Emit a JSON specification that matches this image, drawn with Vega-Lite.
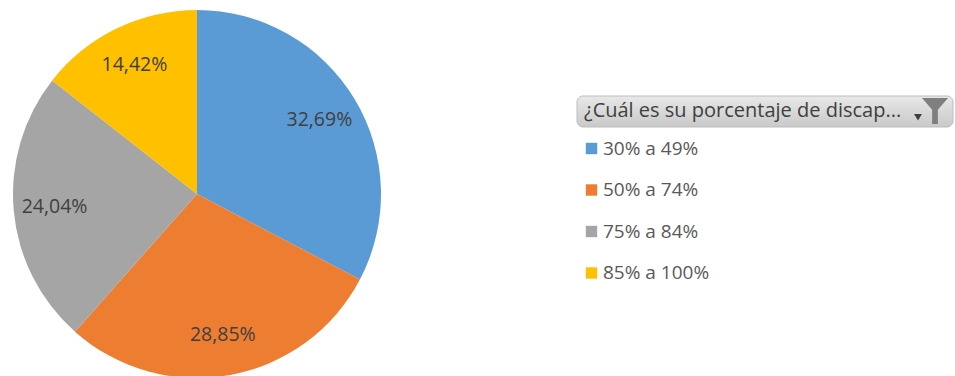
{"$schema":"https://vega.github.io/schema/vega-lite/v6.json","background":"white","padding":0,"spacing":183,"bounds":"flush","resolve":{"scale":{"color":"independent"}},"config":{"view":{"stroke":null},"font":"Open Sans"},"hconcat":[{"width":394,"height":388,"data":{"values":[{"rango":"30% a 49%","porcentaje":32.69,"etiqueta":"32,69%"},{"rango":"50% a 74%","porcentaje":28.85,"etiqueta":"28,85%"},{"rango":"75% a 84%","porcentaje":24.04,"etiqueta":"24,04%"},{"rango":"85% a 100%","porcentaje":14.42,"etiqueta":"14,42%"}]},"layer":[{"mark":{"type":"arc","outerRadius":184},"encoding":{"theta":{"field":"porcentaje","type":"quantitative","stack":true},"order":{"field":"rango","type":"nominal"},"color":{"field":"rango","type":"nominal","scale":{"domain":["30% a 49%","50% a 74%","75% a 84%","85% a 100%"],"range":["#5B9BD5","#ED7D31","#A5A5A5","#FFC000"]},"legend":{"orient":"none","legendX":582,"legendY":139,"title":null,"symbolType":"square","symbolSize":130,"symbolStrokeWidth":0,"symbolOpacity":1,"labelFontSize":19,"labelColor":"#595959","labelFont":"Open Sans","labelOffset":2,"rowPadding":21.5,"labelLimit":200}}}},{"mark":{"type":"text","radius":143,"fontSize":19.5,"color":"#404040"},"encoding":{"theta":{"field":"porcentaje","type":"quantitative","stack":true},"order":{"field":"rango","type":"nominal"},"detail":{"field":"rango","type":"nominal"},"text":{"field":"etiqueta","type":"nominal"}}}]},{"width":376,"height":388,"data":{"values":[{"filtro":"¿Cuál es su porcentaje de discap..."}]},"encoding":{"y":{"datum":111,"type":"quantitative","scale":{"domain":[388,0],"nice":false,"zero":false},"axis":null},"x":{"datum":0,"type":"quantitative","scale":{"domain":[0,376],"nice":false,"zero":false},"axis":null}},"layer":[{"mark":{"type":"rect","cornerRadius":6,"stroke":"#BDBDBD","strokeWidth":1,"fill":{"x1":0,"y1":0,"x2":0,"y2":1,"gradient":"linear","stops":[{"offset":0,"color":"#E8E8E8"},{"offset":1,"color":"#C9C9C9"}]}},"encoding":{"y":{"datum":96,"type":"quantitative","scale":{"domain":[388,0],"nice":false,"zero":false},"axis":null},"y2":{"datum":127},"x":{"datum":0,"type":"quantitative","scale":{"domain":[0,376],"nice":false,"zero":false},"axis":null},"x2":{"datum":376}}},{"mark":{"type":"text","align":"left","baseline":"middle","fontSize":20,"color":"#404040","dx":7},"encoding":{"text":{"field":"filtro","type":"nominal"}}},{"mark":{"type":"point","filled":true,"color":"#7F7F7F","opacity":1,"size":676,"shape":"M-1,-1 L1,-1 L0.22,-0.1 L0.22,1 L-0.22,1 L-0.22,-0.1 Z"},"encoding":{"x":{"datum":358,"type":"quantitative","scale":{"domain":[0,376],"nice":false,"zero":false},"axis":null}}},{"mark":{"type":"point","filled":true,"color":"#404040","opacity":1,"size":64,"shape":"M-1,-1 L1,-1 L0,0.6 Z"},"encoding":{"x":{"datum":341,"type":"quantitative","scale":{"domain":[0,376],"nice":false,"zero":false},"axis":null},"y":{"datum":118,"type":"quantitative","scale":{"domain":[388,0],"nice":false,"zero":false},"axis":null}}}]}]}
